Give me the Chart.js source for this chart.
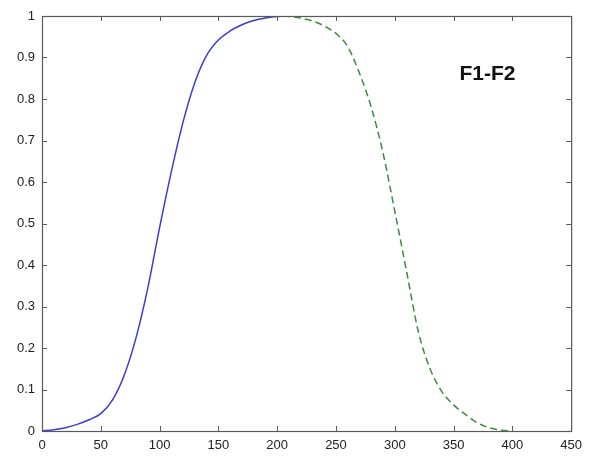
<!DOCTYPE html>
<html><head><meta charset="utf-8">
<script src="https://cdn.jsdelivr.net/npm/chart.js@4/dist/chart.umd.min.js"></script>
<style>html,body{margin:0;padding:0;background:#fff;overflow:hidden}</style>
</head><body>
<canvas id="c" width="589" height="460"></canvas>
<script>
const blueX=[0,10,20,30,40,50,60,70,80,90,100,110,120,130,140,150,160,170,180,190,200,210];
const blueY=[0,0.003,0.008,0.016,0.027,0.042,0.075,0.135,0.225,0.345,0.49,0.625,0.745,0.84,0.905,0.942,0.964,0.979,0.989,0.995,0.999,1.0];
const greenX=[205,210,220,230,240,250,260,270,280,290,300,310,320,330,340,350,360,370,380,390,400];
const greenY=[1.0,0.999,0.995,0.988,0.976,0.958,0.926,0.862,0.78,0.67,0.53,0.385,0.24,0.15,0.095,0.063,0.04,0.02,0.008,0.002,0.0];
const xTicks=[0,50,100,150,200,250,300,350,400,450];
const yTicks=[0,0.1,0.2,0.3,0.4,0.5,0.6,0.7,0.8,0.9,1];
const yTickLabels=['0','0.1','0.2','0.3','0.4','0.5','0.6','0.7','0.8','0.9','1'];
const labelText='F1-F2';
const labelPos=[355,0.846];

const pts=(xs,ys)=>xs.map((x,i)=>({x:x,y:ys[i]}));
const FONT="'Liberation Sans', Arial, sans-serif";

const frame={
  id:'frame',
  afterDraw(chart){
    const {ctx,chartArea:a,scales:{x,y}}=chart;
    ctx.save();
    ctx.strokeStyle='#5a5a5a';
    ctx.lineWidth=1.2;
    ctx.strokeRect(a.left+0.5,a.top+0.5,a.right-a.left,a.bottom-a.top);
    ctx.lineWidth=1;
    const L=5;
    ctx.beginPath();
    xTicks.forEach(v=>{const p=Math.round(x.getPixelForValue(v))+0.5;
      ctx.moveTo(p,a.bottom);ctx.lineTo(p,a.bottom-L);
      ctx.moveTo(p,a.top);ctx.lineTo(p,a.top+L);});
    yTicks.forEach(v=>{const p=Math.round(y.getPixelForValue(v))+0.5;
      ctx.moveTo(a.left,p);ctx.lineTo(a.left+L,p);
      ctx.moveTo(a.right,p);ctx.lineTo(a.right-L,p);});
    ctx.stroke();
    ctx.fillStyle='#111';
    ctx.font="bold 21px "+FONT;
    ctx.textBaseline='alphabetic';
    ctx.fillText(labelText,x.getPixelForValue(labelPos[0]),y.getPixelForValue(labelPos[1]));
    ctx.restore();
  }
};

new Chart(document.getElementById('c'),{
  type:'scatter',
  data:{datasets:[
    {data:pts(blueX,blueY),showLine:true,borderColor:'#3b3bd6',borderWidth:1.5,pointRadius:0,cubicInterpolationMode:'monotone'},
    {data:pts(greenX,greenY),showLine:true,borderColor:'#3f8a3f',borderWidth:1.5,borderDash:[7,4],pointRadius:0,cubicInterpolationMode:'monotone'}
  ]},
  options:{
    responsive:false,animation:false,devicePixelRatio:1,
    layout:{padding:{left:0,right:14,top:16,bottom:0}},
    plugins:{legend:{display:false},tooltip:{enabled:false}},
    scales:{
      x:{type:'linear',min:0,max:450,
        afterBuildTicks(s){s.ticks=xTicks.map(v=>({value:v}));},
        afterFit(s){s.height=29;},
        grid:{display:false,drawTicks:false},border:{display:false},
        ticks:{padding:7,color:'#222',font:{family:FONT,size:13},maxRotation:0,autoSkip:false}},
      y:{type:'linear',min:0,max:1,
        afterBuildTicks(s){s.ticks=yTicks.map(v=>({value:v}));},
        afterFit(s){s.width=42;},
        grid:{display:false,drawTicks:false},border:{display:false},
        ticks:{padding:7,color:'#222',font:{family:FONT,size:13},autoSkip:false,
          callback:(v)=>{const i=yTicks.findIndex(t=>Math.abs(t-v)<1e-9);return i>=0?yTickLabels[i]:'';}}}
    }
  },
  plugins:[frame]
});
</script>
</body></html>
